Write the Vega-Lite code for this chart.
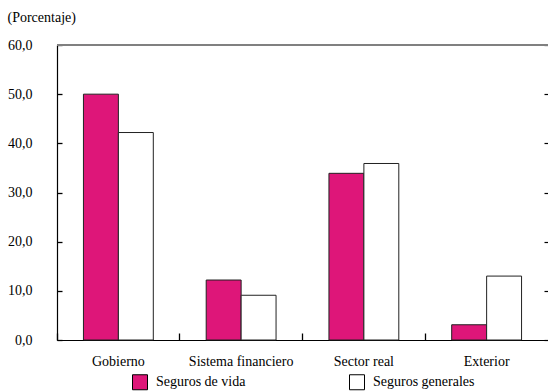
{
  "$schema": "https://vega.github.io/schema/vega-lite/v6.json",
  "width": 491,
  "height": 295,
  "autosize": {"type": "none"},
  "padding": {"left": 57, "top": 45, "right": 0, "bottom": 52},
  "background": "white",
  "config": {
    "view": {"stroke": null},
    "font": "Liberation Serif",
    "axis": {"labelFont": "Liberation Serif", "labelFontSize": 14, "labelColor": "black", "domainColor": "black", "tickColor": "black", "grid": false}
  },
  "title": {"text": "(Porcentaje)", "anchor": "start", "fontSize": 14, "fontWeight": "normal", "font": "Liberation Serif", "color": "black", "dx": 0, "offset": 13},
  "data": {
    "values": [
      {"sector": "Gobierno", "tipo": "Seguros de vida", "valor": 50.0},
      {"sector": "Gobierno", "tipo": "Seguros generales", "valor": 42.2},
      {"sector": "Sistema financiero", "tipo": "Seguros de vida", "valor": 12.2},
      {"sector": "Sistema financiero", "tipo": "Seguros generales", "valor": 9.1},
      {"sector": "Sector real", "tipo": "Seguros de vida", "valor": 33.9},
      {"sector": "Sector real", "tipo": "Seguros generales", "valor": 35.9},
      {"sector": "Exterior", "tipo": "Seguros de vida", "valor": 3.1},
      {"sector": "Exterior", "tipo": "Seguros generales", "valor": 13.0}
    ]
  },
  "layer": [
    {
      "mark": {"type": "bar", "stroke": "#222222", "strokeWidth": 1},
      "encoding": {
        "x": {
          "field": "sector", "type": "nominal",
          "sort": ["Gobierno", "Sistema financiero", "Sector real", "Exterior"],
          "scale": {"paddingInner": 0, "paddingOuter": 0},
          "axis": {"title": null, "labelAngle": 0, "ticks": true, "bandPosition": 0, "tickSize": -7, "tickWidth": 1.3, "tickColor": "black", "labelPadding": 21, "domainWidth": 1.2}
        },
        "xOffset": {
          "field": "tipo", "type": "nominal",
          "sort": ["Seguros de vida", "Seguros generales"],
          "scale": {"paddingInner": 0, "paddingOuter": 0.757}
        },
        "y": {
          "field": "valor", "type": "quantitative",
          "scale": {"domain": [0, 60], "nice": false},
          "axis": {"title": null, "values": [0, 10, 20, 30, 40, 50, 60], "labelExpr": "replace(format(datum.value, '.1f'), '.', ',')", "tickSize": -5, "tickWidth": 1.3, "labelPadding": 30, "domainWidth": 1.2}
        },
        "fill": {
          "field": "tipo", "type": "nominal",
          "scale": {"domain": ["Seguros de vida", "Seguros generales"], "range": ["#DE1679", "#FFFFFF"]},
          "legend": {
            "title": null, "orient": "none", "direction": "horizontal",
            "legendX": 75, "legendY": 329,
            "symbolType": "square", "symbolSize": 225, "symbolStrokeColor": "black", "symbolStrokeWidth": 1,
            "labelFont": "Liberation Serif", "labelFontSize": 14, "labelColor": "black", "labelOffset": 8,
            "columnPadding": 101, "labelLimit": 200
          }
        }
      }
    },
    {
      "mark": {"type": "rule", "color": "#808080", "strokeWidth": 1.5},
      "encoding": {
        "y": {
          "datum": 60, "type": "quantitative",
          "scale": {"domain": [0, 60], "nice": false},
          "axis": {"orient": "right", "title": null, "values": [0, 10, 20, 30, 40, 50, 60], "labels": false, "domain": false, "tickSize": -4, "tickWidth": 1.2}
        }
      }
    }
  ],
  "resolve": {"scale": {"y": "independent"}}
}
